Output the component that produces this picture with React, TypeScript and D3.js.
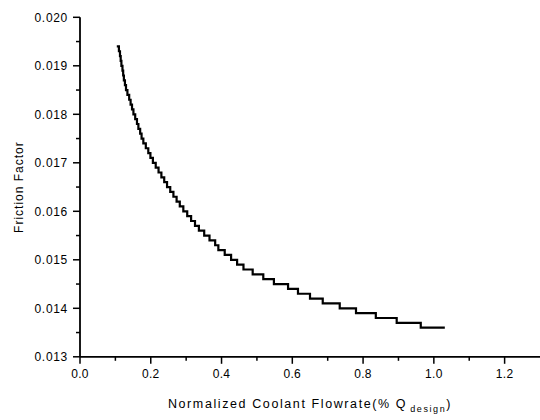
import React from "react";
import * as d3 from "d3";

// Friction factor levels (step values) and the normalized flowrate where each level begins
const frictionLevels: number[] = [
  0.0194, 0.0193, 0.0192, 0.0191, 0.019, 0.0189, 0.0188, 0.0187, 0.0186, 0.0185,
  0.0184, 0.0183, 0.0182, 0.0181, 0.018, 0.0179, 0.0178, 0.0177, 0.0176, 0.0175,
  0.0174, 0.0173, 0.0172, 0.0171, 0.017, 0.0169, 0.0168, 0.0167, 0.0166, 0.0165,
  0.0164, 0.0163, 0.0162, 0.0161, 0.016, 0.0159, 0.0158, 0.0157, 0.0156, 0.0155,
  0.0154, 0.0153, 0.0152, 0.0151, 0.015, 0.0149, 0.0148, 0.0147, 0.0146, 0.0145,
  0.0144, 0.0143, 0.0142, 0.0141, 0.014, 0.0139, 0.0138, 0.0137, 0.0136, 0.0136,
];
const flowrates: number[] = [
  0.104, 0.110, 0.113, 0.115, 0.117, 0.120, 0.122, 0.124, 0.127, 0.130,
  0.134, 0.139, 0.143, 0.147, 0.151, 0.156, 0.161, 0.165, 0.170, 0.174,
  0.179, 0.186, 0.193, 0.199, 0.206, 0.214, 0.222, 0.230, 0.238, 0.246,
  0.255, 0.264, 0.273, 0.282, 0.292, 0.303, 0.314, 0.325, 0.336, 0.351,
  0.366, 0.382, 0.391, 0.409, 0.427, 0.444, 0.462, 0.488, 0.518, 0.548,
  0.588, 0.616, 0.650, 0.686, 0.734, 0.780, 0.836, 0.895, 0.963, 1.031,
];

const xTicks: number[] = [0, 0.2, 0.4, 0.6, 0.8, 1.0, 1.2];
const xMinorTicks: number[] = [0.1, 0.3, 0.5, 0.7, 0.9, 1.1];
const yTicks: number[] = [0.013, 0.014, 0.015, 0.016, 0.017, 0.018, 0.019, 0.02];
const yMinorTicks: number[] = [0.0135, 0.0145, 0.0155, 0.0165, 0.0175, 0.0185, 0.0195];

const W = 540;
const H = 420;
const left = 80;
const right = 540;
const top = 17.3;
const bottom = 356.8;

export default function App() {
  const x = d3.scaleLinear().domain([0, 1.3]).range([left, right]);
  const y = d3.scaleLinear().domain([0.013, 0.02]).range([bottom, top]);
  const pts: [number, number][] = flowrates.map((q, i) => [q, frictionLevels[i]]);
  const line = d3
    .line<[number, number]>()
    .x((d) => x(d[0]))
    .y((d) => y(d[1]))
    .curve(d3.curveStepAfter);
  const font = "'Liberation Sans', Arial, sans-serif";

  return (
    <svg
      width={W}
      height={H}
      style={{ position: "absolute", left: 0, top: 0, background: "#fff" }}
      fontFamily={font}
    >
      <rect width={W} height={H} fill="#fff" />
      {/* axes lines */}
      <line x1={left} x2={left} y1={top} y2={bottom} stroke="#000" strokeWidth={1.8} />
      <line x1={left} x2={right} y1={bottom} y2={bottom} stroke="#000" strokeWidth={1.8} />
      {/* y ticks */}
      {yTicks.map((t) => (
        <g key={"y" + t}>
          <line x1={left - 7} x2={left} y1={y(t)} y2={y(t)} stroke="#000" strokeWidth={1.5} />
          <text
            x={left - 12}
            y={y(t)}
            dy="0.35em"
            textAnchor="end"
            fontSize={12}
            letterSpacing={0.7}
            fill="#000"
          >
            {d3.format(".3f")(t)}
          </text>
        </g>
      ))}
      {yMinorTicks.map((t) => (
        <line key={"ym" + t} x1={left - 4} x2={left} y1={y(t)} y2={y(t)} stroke="#000" strokeWidth={1.5} />
      ))}
      {/* x ticks */}
      {xTicks.map((t) => (
        <g key={"x" + t}>
          <line x1={x(t)} x2={x(t)} y1={bottom} y2={bottom + 7} stroke="#000" strokeWidth={1.5} />
          <text x={x(t)} y={378} textAnchor="middle" fontSize={12} letterSpacing={0.3} fill="#000">
            {d3.format(".1f")(t)}
          </text>
        </g>
      ))}
      {xMinorTicks.map((t) => (
        <line key={"xm" + t} x1={x(t)} x2={x(t)} y1={bottom} y2={bottom + 4} stroke="#000" strokeWidth={1.5} />
      ))}
      {/* axis titles */}
      <text
        transform={`translate(23,${(top + bottom) / 2}) rotate(-90)`}
        textAnchor="middle"
        fontSize={12}
        letterSpacing={1}
        fill="#000"
      >
        Friction Factor
      </text>
      <text x={310} y={408} textAnchor="middle" fontSize={12.5} letterSpacing={1.6} fill="#000">
        Normalized Coolant Flowrate(% Q
        <tspan fontSize={9} dy={4} dx={3}>design</tspan>
        <tspan dy={-4}>)</tspan>
      </text>
      {/* data */}
      <path d={line(pts) || ""} fill="none" stroke="#000" strokeWidth={2.2} strokeLinejoin="miter" />
    </svg>
  );
}
